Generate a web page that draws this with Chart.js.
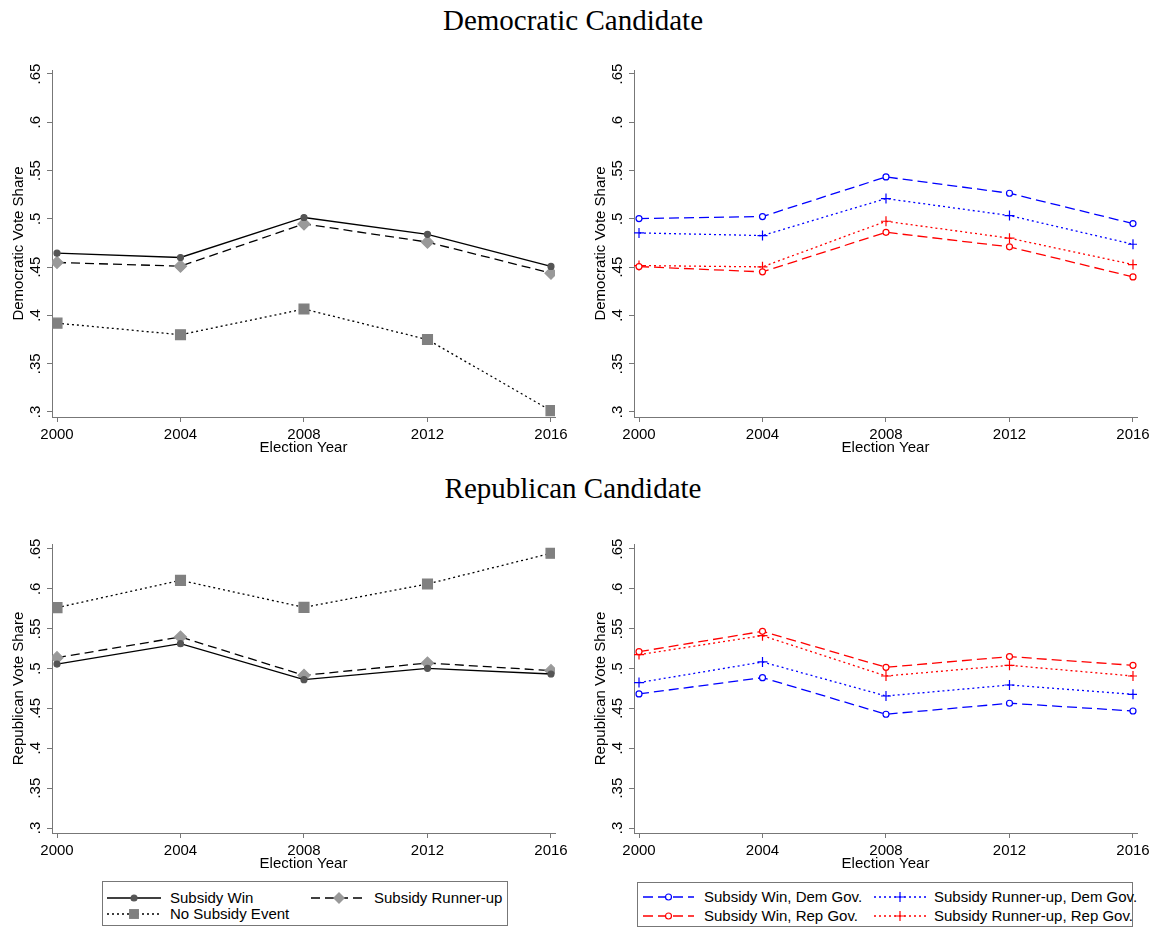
<!DOCTYPE html>
<html>
<head>
<meta charset="utf-8">
<script src="https://cdn.jsdelivr.net/npm/chart.js@4.4.0/dist/chart.umd.min.js"></script>
<style>
body{margin:0;background:#fff;width:1156px;height:929px;position:relative;overflow:hidden;font-family:"Liberation Sans",Arial,sans-serif}
canvas{position:absolute}
.ttl{position:absolute;left:0;width:1146px;text-align:center;font-family:"Liberation Serif","Times New Roman",serif;font-size:29px;line-height:32px;color:#000}
.legend{position:absolute;border:1px solid #777;box-sizing:border-box;font-size:15px;color:#000}
.item{position:absolute;height:16px;line-height:16px;white-space:nowrap}
.item svg{position:absolute;top:0;left:0}
</style>
</head>
<body>
<div class="ttl" style="top:4px">Democratic Candidate</div>
<div class="ttl" style="top:472px">Republican Candidate</div>
<canvas id="demAll" width="580" height="430" style="left:0;top:40px"></canvas>
<canvas id="demGov" width="574" height="430" style="left:582px;top:40px"></canvas>
<canvas id="repAll" width="580" height="380" style="left:0;top:500px"></canvas>
<canvas id="repGov" width="574" height="380" style="left:582px;top:500px"></canvas>
<div class="legend" id="legLeft" style="left:102px;top:881px;width:406px;height:45px"></div>
<div class="legend" id="legRight" style="left:637px;top:882px;width:496px;height:45px"></div>
<script>
Chart.defaults.font.family = "'Liberation Sans', Arial, sans-serif";
Chart.defaults.color = "#000";

var years = [2000, 2004, 2008, 2012, 2016];
var yTickValues = [0.3, 0.35, 0.4, 0.45, 0.5, 0.55, 0.6, 0.65];
var yTickLabels = [".3", ".35", ".4", ".45", ".5", ".55", ".6", ".65"];

// democratic candidate
var demWin = [0.4645, 0.460, 0.5014, 0.484, 0.4507];
var demRunnerUp = [0.4548, 0.451, 0.4948, 0.4759, 0.4438];
var demNoEvent = [0.392, 0.380, 0.4066, 0.375, 0.3014];
var demWinDemGov = [0.5003, 0.5024, 0.5434, 0.5265, 0.4951];
var demRunDemGov = [0.4854, 0.4827, 0.521, 0.5034, 0.4737];
var demWinRepGov = [0.4506, 0.4451, 0.4861, 0.471, 0.4399];
var demRunRepGov = [0.4516, 0.4503, 0.4975, 0.480, 0.4527];

// republican candidate
var repWin = [0.5057, 0.5312, 0.4861, 0.5003, 0.4932];
var repRunnerUp = [0.5137, 0.5396, 0.4915, 0.507, 0.4974];
var repNoEvent = [0.5764, 0.6107, 0.5768, 0.6061, 0.6446];
var repWinDemGov = [0.4682, 0.4886, 0.4427, 0.4565, 0.4468];
var repRunDemGov = [0.4824, 0.5083, 0.4656, 0.4794, 0.4677];
var repWinRepGov = [0.5212, 0.5467, 0.5016, 0.515, 0.5041];
var repRunRepGov = [0.5175, 0.5413, 0.4907, 0.5041, 0.4907];

// line / marker styles
var stWin = {label: "Subsidy Win", color: "#000", dash: [], marker: "circle", radius: 3, fill: "#555", mcolor: "#555"};
var stRun = {label: "Subsidy Runner-up", color: "#000", dash: [9, 5], marker: "rectRot", radius: 6, fill: "#999", mcolor: "#999"};
var stNo = {label: "No Subsidy Event", color: "#000", dash: [2, 3], marker: "rect", radius: 7, fill: "#808080", mcolor: "#808080"};
var stWinD = {label: "Subsidy Win, Dem Gov.", color: "#0000ff", dash: [10, 5], marker: "circle", radius: 3, fill: "#fff", mcolor: "#0000ff"};
var stRunD = {label: "Subsidy Runner-up, Dem Gov.", color: "#0000ff", dash: [2, 3], marker: "cross", radius: 5, fill: "#0000ff", mcolor: "#0000ff"};
var stWinR = {label: "Subsidy Win, Rep Gov.", color: "#ff0000", dash: [10, 5], marker: "circle", radius: 3, fill: "#fff", mcolor: "#ff0000"};
var stRunR = {label: "Subsidy Runner-up, Rep Gov.", color: "#ff0000", dash: [2, 3], marker: "cross", radius: 5, fill: "#ff0000", mcolor: "#ff0000"};

function makePanel(id, yTitle, series, yRange, pad) {
  var datasets = series.map(function (s) {
    return {
      label: s[0].label,
      data: years.map(function (yr, i) { return {x: yr, y: s[1][i]}; }),
      borderColor: s[0].color,
      borderWidth: 1.3,
      borderDash: s[0].dash,
      pointStyle: s[0].marker,
      pointRadius: s[0].radius,
      pointBackgroundColor: s[0].fill,
      pointBorderColor: s[0].mcolor,
      pointBorderWidth: 1.2,
      fill: false,
      tension: 0
    };
  });
  return new Chart(document.getElementById(id), {
    type: "line",
    data: {datasets: datasets},
    options: {
      responsive: false,
      animation: false,
      devicePixelRatio: 1,
      layout: {padding: {left: 0, right: pad.right, top: pad.top, bottom: pad.bottom}},
      plugins: {legend: {display: false}, tooltip: {enabled: false}},
      scales: {
        x: {
          type: "linear", min: 1999.838, max: 2016.13,
          afterBuildTicks: function (s) { s.ticks = years.map(function (v) { return {value: v}; }); },
          afterFit: function (s) { s.height = 40; },
          ticks: {callback: function (v, i) { return String(years[i]); }, font: {size: 15}, color: "#000", padding: 4, maxRotation: 0, autoSkip: false},
          grid: {drawOnChartArea: false, drawTicks: true, tickLength: 5, color: "#777"},
          border: {color: "#777"},
          title: {display: true, text: "Election Year", font: {size: 15}, color: "#000", padding: 0}
        },
        y: {
          min: yRange[0], max: yRange[1],
          afterBuildTicks: function (s) { s.ticks = yTickValues.map(function (v) { return {value: v}; }); },
          afterFit: function (s) { s.width = 52; },
          ticks: {callback: function (v, i) { return yTickLabels[i]; }, font: {size: 15}, color: "#000", minRotation: 90, maxRotation: 90, crossAlign: "center", padding: 1, autoSkip: false},
          grid: {drawOnChartArea: false, drawTicks: true, tickLength: 5, color: "#777"},
          border: {color: "#777"},
          title: {display: true, text: yTitle, font: {size: 15}, color: "#000", padding: {top: 10, bottom: 0}}
        }
      }
    }
  });
}

var topRange = [0.29482, 0.65414];
var botRange = [0.29373, 0.65627];

makePanel("demAll", "Democratic Vote Share", [[stWin, demWin], [stRun, demRunnerUp], [stNo, demNoEvent]], topRange, {right: 25, top: 30, bottom: 13});
makePanel("demGov", "Democratic Vote Share", [[stWinD, demWinDemGov], [stRunD, demRunDemGov], [stWinR, demWinRepGov], [stRunR, demRunRepGov]], topRange, {right: 19, top: 30, bottom: 13});
makePanel("repAll", "Republican Vote Share", [[stWin, repWin], [stRun, repRunnerUp], [stNo, repNoEvent]], botRange, {right: 25, top: 44, bottom: 7});
makePanel("repGov", "Republican Vote Share", [[stWinD, repWinDemGov], [stRunD, repRunDemGov], [stWinR, repWinRepGov], [stRunR, repRunRepGov]], botRange, {right: 19, top: 44, bottom: 7});

// legends
function markerSvg(s, cx, cy) {
  var r = s.radius;
  if (s.marker === "circle") return '<circle cx="' + cx + '" cy="' + cy + '" r="' + r + '" fill="' + s.fill + '" stroke="' + s.mcolor + '" stroke-width="1.2"/>';
  if (s.marker === "rectRot") return '<polygon points="' + cx + ',' + (cy - r) + ' ' + (cx + r) + ',' + cy + ' ' + cx + ',' + (cy + r) + ' ' + (cx - r) + ',' + cy + '" fill="' + s.fill + '"/>';
  if (s.marker === "rect") { var h = r * Math.SQRT1_2; return '<rect x="' + (cx - h) + '" y="' + (cy - h) + '" width="' + 2 * h + '" height="' + 2 * h + '" fill="' + s.fill + '"/>'; }
  return '<path d="M' + (cx - r) + ' ' + cy + 'H' + (cx + r) + 'M' + cx + ' ' + (cy - r) + 'V' + (cy + r) + '" stroke="' + s.mcolor + '" stroke-width="1.2"/>';
}
function addItem(box, s, x, y, w, gap) {
  var d = document.createElement("div");
  d.className = "item";
  d.style.left = x + "px";
  d.style.top = y + "px";
  d.style.paddingLeft = (w + gap) + "px";
  d.innerHTML = '<svg width="' + w + '" height="16"><line x1="0" y1="8" x2="' + w + '" y2="8" stroke="' + s.color + '" stroke-width="1.3" stroke-dasharray="' + (s.dash.length ? s.dash.join(",") : "none") + '"/>' + markerSvg(s, w / 2, 8) + '</svg>';
  d.appendChild(document.createTextNode(s.label));
  box.appendChild(d);
}
var legL = document.getElementById("legLeft");
addItem(legL, stWin, 4, 8, 54, 9);
addItem(legL, stRun, 208, 8, 56, 7);
addItem(legL, stNo, 4, 24, 54, 9);
var legR = document.getElementById("legRight");
addItem(legR, stWinD, 5, 6, 51, 10);
addItem(legR, stRunD, 236, 6, 52, 8);
addItem(legR, stWinR, 5, 25, 51, 10);
addItem(legR, stRunR, 236, 25, 52, 8);
</script>
</body>
</html>
